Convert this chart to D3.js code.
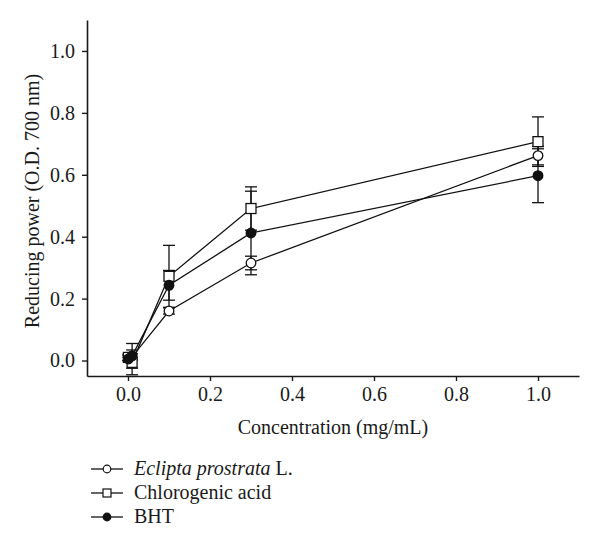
<!DOCTYPE html>
<html>
<head>
<meta charset="utf-8">
<script src="https://cdn.jsdelivr.net/npm/d3@7"></script>
<style>
  body { margin: 0; background: #fff; }
  svg text { font-family: "Liberation Serif", "DejaVu Serif", serif; fill: #1a1a1a; }
</style>
</head>
<body>
<div id="chart"></div>
<script>
// concentrations (mg/mL)
var conc        = [0.001, 0.01, 0.1, 0.3, 1.0];

// reducing power, mean and error
var eclipta     = [0.008, 0.012, 0.160, 0.315, 0.662];
var eclErr      = [0.008, 0.010, 0.010, 0.022, 0.030];
var chloro      = [0.010, -0.006, 0.272, 0.491, 0.707];
var chloroErr   = [0.010, 0.040, 0.100, 0.070, 0.080];
var bht         = [0.005, 0.015, 0.243, 0.412, 0.597];
var bhtErr      = [0.005, 0.040, 0.048, 0.135, 0.087];

var xTicks      = [0.0, 0.2, 0.4, 0.6, 0.8, 1.0];
var yTicks      = [0.0, 0.2, 0.4, 0.6, 0.8, 1.0];

var series = [
  { name: "Eclipta prostrata", suffix: " L.", italic: true, vals: eclipta, err: eclErr, shape: "circle", fill: "#fff" },
  { name: "Chlorogenic acid", suffix: "", italic: false, vals: chloro, err: chloroErr, shape: "square", fill: "#fff" },
  { name: "BHT", suffix: "", italic: false, vals: bht, err: bhtErr, shape: "circle", fill: "#111" }
];

var width  = 600,
    height = 551;

var x = d3.scaleLinear().domain([-0.1, 1.1]).range([87, 579]);
var y = d3.scaleLinear().domain([-0.05, 1.1]).range([376, 20]);

var svg = d3.select("#chart")
            .append("svg")
            .attr("width", width)
            .attr("height", height);

// axes
var xAxis = svg.append("g")
               .attr("transform", "translate(0," + y(-0.05) + ")")
               .call(d3.axisBottom(x).tickValues(xTicks).tickFormat(d3.format(".1f")).tickSize(5).tickSizeOuter(0));

var yAxis = svg.append("g")
               .attr("transform", "translate(" + x(-0.1) + ",0)")
               .call(d3.axisLeft(y).tickValues(yTicks).tickFormat(d3.format(".1f")).tickSize(5).tickSizeOuter(0));

[xAxis, yAxis].forEach(function (a) {
  a.select(".domain").attr("stroke", "#1a1a1a").attr("stroke-width", 1.6);
  a.selectAll(".tick line").attr("stroke", "#1a1a1a").attr("stroke-width", 1.4);
  a.selectAll("text").style("font-size", "20px").attr("fill", "#1a1a1a");
});
xAxis.selectAll("text").attr("dy", "0.71em").attr("y", 11);
yAxis.selectAll("text").attr("x", -12);

svg.append("text")
   .attr("x", 333)
   .attr("y", 434)
   .attr("text-anchor", "middle")
   .style("font-size", "20px")
   .text("Concentration (mg/mL)");

svg.append("text")
   .attr("transform", "translate(39,201) rotate(-90)")
   .attr("text-anchor", "middle")
   .style("font-size", "20px")
   .text("Reducing power (O.D. 700 nm)");

function drawMarker(g, shape, fill, cx, cy) {
  if (shape === "square") {
    g.append("rect")
     .attr("x", cx - 5).attr("y", cy - 5)
     .attr("width", 10).attr("height", 10)
     .attr("fill", fill).attr("stroke", "#111").attr("stroke-width", 1.3);
  } else {
    g.append("circle")
     .attr("cx", cx).attr("cy", cy).attr("r", 4.8)
     .attr("fill", fill).attr("stroke", "#111").attr("stroke-width", 1.3);
  }
}

var line = d3.line()
             .x(function (d) { return x(d[0]); })
             .y(function (d) { return y(d[1]); });

// error bars first, then lines, then markers
series.forEach(function (s) {
  var g = svg.append("g");
  conc.forEach(function (c, i) {
    var px = x(c), top = y(s.vals[i] + s.err[i]), bot = y(s.vals[i] - s.err[i]);
    g.append("line").attr("x1", px).attr("x2", px).attr("y1", top).attr("y2", bot)
     .attr("stroke", "#111").attr("stroke-width", 1.3);
    [top, bot].forEach(function (yy) {
      g.append("line").attr("x1", px - 6).attr("x2", px + 6).attr("y1", yy).attr("y2", yy)
       .attr("stroke", "#111").attr("stroke-width", 1.3);
    });
  });
});

series.forEach(function (s) {
  svg.append("path")
     .datum(conc.map(function (c, i) { return [c, s.vals[i]]; }))
     .attr("d", line)
     .attr("fill", "none")
     .attr("stroke", "#111")
     .attr("stroke-width", 1.3);
});

series.forEach(function (s) {
  var g = svg.append("g");
  conc.forEach(function (c, i) {
    drawMarker(g, s.shape, s.fill, x(c), y(s.vals[i]));
  });
});

// legend
var legY = [469, 493, 517];
series.forEach(function (s, i) {
  var g = svg.append("g");
  g.append("line").attr("x1", 91).attr("x2", 123).attr("y1", legY[i]).attr("y2", legY[i])
   .attr("stroke", "#111").attr("stroke-width", 1.3);
  if (s.shape === "square") {
    g.append("rect").attr("x", 103).attr("y", legY[i] - 4).attr("width", 8).attr("height", 8)
     .attr("fill", s.fill).attr("stroke", "#111").attr("stroke-width", 1.2);
  } else {
    g.append("circle").attr("cx", 107).attr("cy", legY[i]).attr("r", 3.8)
     .attr("fill", s.fill).attr("stroke", "#111").attr("stroke-width", 1.2);
  }
  var t = g.append("text").attr("x", 134).attr("y", legY[i] + 6).style("font-size", "20px");
  t.append("tspan").style("font-style", s.italic ? "italic" : "normal").text(s.name);
  if (s.suffix) t.append("tspan").text(s.suffix);
});
</script>
</body>
</html>
